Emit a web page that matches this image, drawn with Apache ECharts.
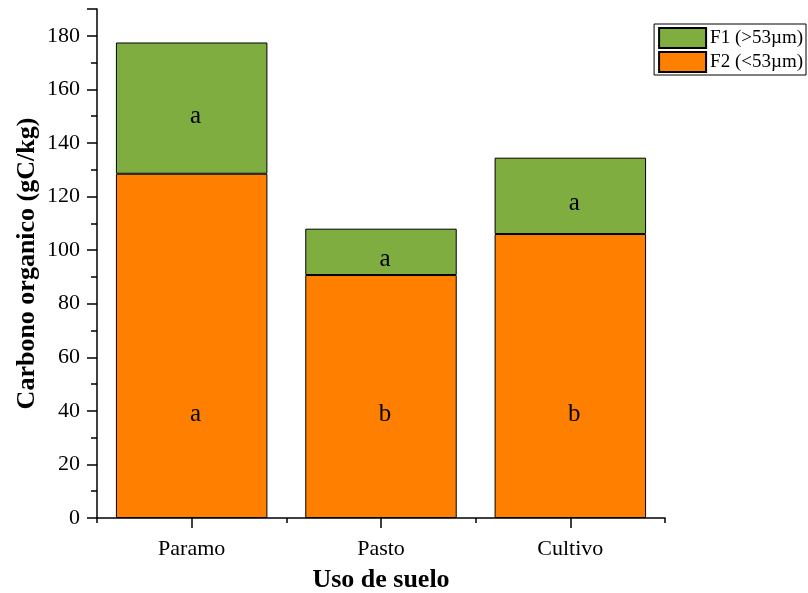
<!DOCTYPE html>
<html>
<head>
<meta charset="utf-8">
<script src="https://cdn.jsdelivr.net/npm/echarts@6/dist/echarts.min.js"></script>
<style>
  html, body { margin: 0; padding: 0; background: #fff; }
  #chart { width: 808px; height: 593px; }
</style>
</head>
<body>
<div id="chart"></div>
<script>
// Soil-use categories and organic carbon fractions (gC/kg)
const categories = ['Paramo', 'Pasto', 'Cultivo'];
const f2Values = [128.5, 90.7, 106.0];   // F2 (<53µm), lower stack
const f1Values = [49.0, 17.3, 28.5];     // F1 (>53µm), upper stack
const f2Letters = ['a', 'b', 'b'];
const f1Letters = ['a', 'a', 'a'];
const yTicks = { min: 0, max: 190, step: 20 };

const FONT = '"Liberation Serif", "Times New Roman", serif';
const GREEN = '#7FAD40';
const ORANGE = '#FF8000';

const chart = echarts.init(document.getElementById('chart'));

chart.setOption({
  animation: false,
  backgroundColor: '#fff',
  textStyle: { fontFamily: FONT, color: '#000' },
  grid: {
    left: 97, right: 143, top: 9, bottom: 75,
    containLabel: false,
    outerBoundsMode: 'none'
  },
  legend: {
    data: ['F1 (>53µm)', 'F2 (<53µm)'],
    orient: 'vertical',
    right: 2,
    top: 24,
    itemWidth: 47,
    itemHeight: 20,
    itemGap: 2,
    padding: [3, 3, 2, 4],
    borderColor: '#000',
    borderWidth: 1,
    borderRadius: 0,
    icon: 'rect',
    textStyle: { fontFamily: FONT, fontSize: 19, color: '#000', padding: [0, 0, 0, -1] }
  },
  xAxis: [
    {
      type: 'category',
      data: categories,
      name: 'Uso de suelo',
      nameLocation: 'middle',
      nameGap: 49,
      nameMoveOverlap: false,
      nameTextStyle: { fontFamily: FONT, fontSize: 26, fontWeight: 'bold', color: '#000' },
      axisLine: { lineStyle: { color: '#000', width: 1.5 } },
      axisTick: { show: true, length: 5, lineStyle: { color: '#000', width: 1.5 } },
      axisLabel: { fontFamily: FONT, fontSize: 22, color: '#000', margin: 20 }
    },
    {
      type: 'category',
      data: categories,
      position: 'bottom',
      axisLine: { show: false },
      axisTick: { show: true, alignWithLabel: true, length: 10, lineStyle: { color: '#000', width: 1.5 } },
      axisLabel: { show: false }
    }
  ],
  yAxis: {
    type: 'value',
    min: yTicks.min,
    max: yTicks.max,
    interval: yTicks.step,
    name: 'Carbono organico (gC/kg)',
    nameLocation: 'middle',
    nameGap: 57,
    nameMoveOverlap: false,
    nameTextStyle: { fontFamily: FONT, fontSize: 26, fontWeight: 'bold', color: '#000' },
    axisLine: { show: true, lineStyle: { color: '#000', width: 1.5 } },
    axisTick: { show: true, length: 10, lineStyle: { color: '#000', width: 1.5 } },
    minorTick: { show: true, splitNumber: 2, length: 6, lineStyle: { color: '#000', width: 1.5 } },
    splitLine: { show: false },
    axisLabel: {
      fontFamily: FONT, fontSize: 22, color: '#000', margin: 17,
      padding: [3, 0, 0, 0],
      formatter: v => (v > 180 ? '' : v)
    }
  },
  series: [
    {
      name: 'F2 (<53µm)',
      type: 'bar',
      stack: 'carbon',
      data: f2Values,
      barCategoryGap: '20%',
      itemStyle: { color: ORANGE, borderColor: '#000', borderWidth: 1 },
      label: {
        show: true,
        position: 'insideBottom',
        distance: 91,
        offset: [4, 0],
        fontFamily: FONT, fontSize: 25, color: '#000',
        formatter: p => f2Letters[p.dataIndex]
      }
    },
    {
      name: 'F1 (>53µm)',
      type: 'bar',
      stack: 'carbon',
      data: f1Values,
      barCategoryGap: '20%',
      itemStyle: { color: GREEN, borderColor: '#000', borderWidth: 1 },
      label: {
        show: true,
        position: 'inside',
        offset: [4, 8],
        fontFamily: FONT, fontSize: 25, color: '#000',
        formatter: p => f1Letters[p.dataIndex]
      }
    }
  ]
});
</script>
</body>
</html>
